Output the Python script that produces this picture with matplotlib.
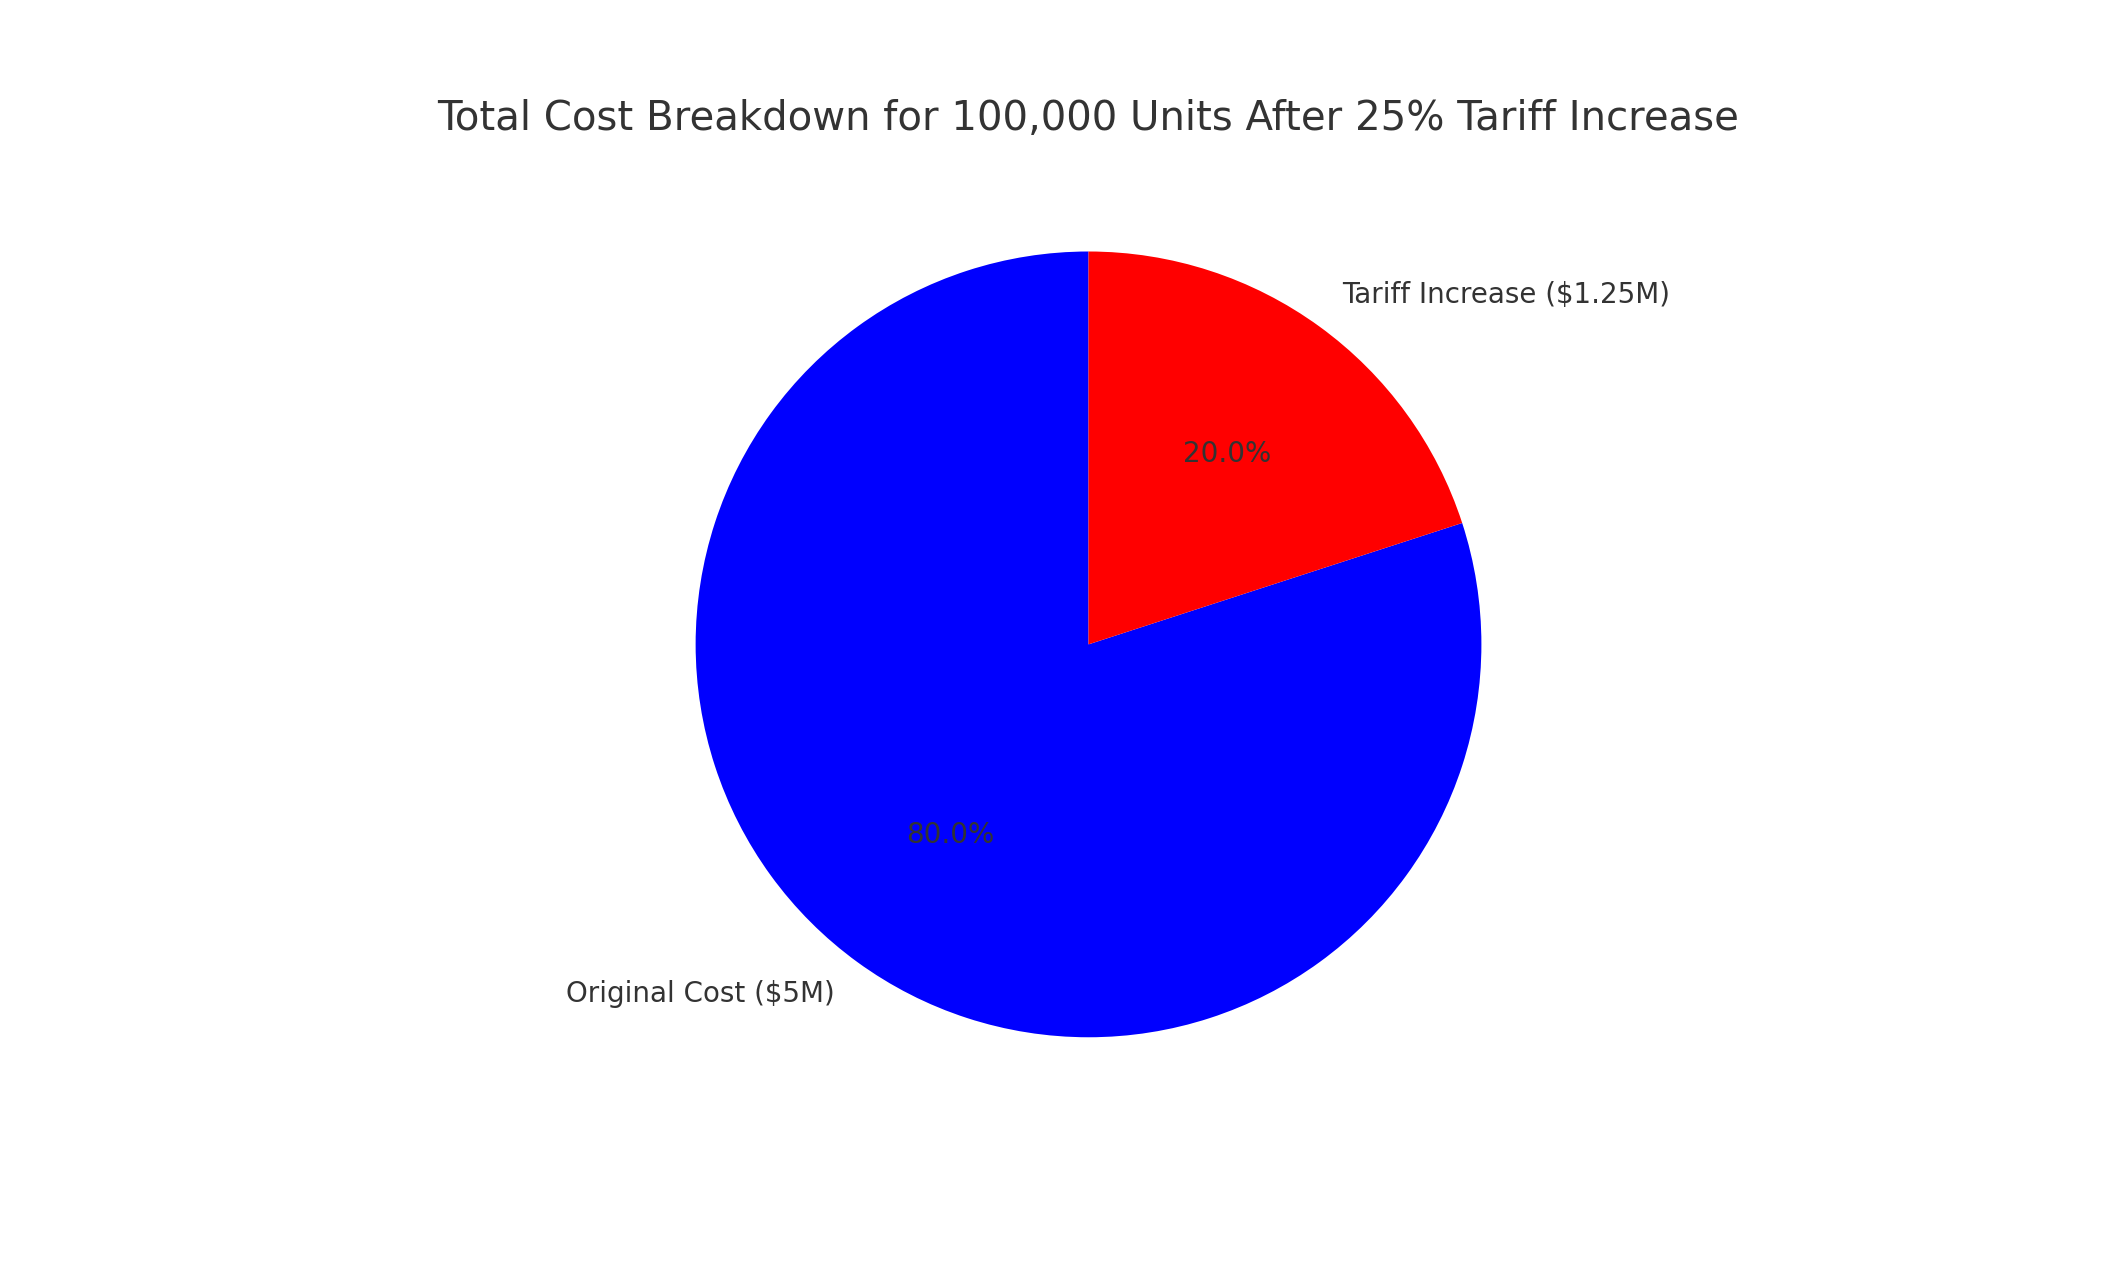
import matplotlib
matplotlib.use("Agg")
import matplotlib.pyplot as plt

labels = ["Original Cost ($5M)", "Tariff Increase ($1.25M)"]
values = [5.0, 1.25]
colors = ["blue", "red"]

fig = plt.figure(figsize=(21.26, 12.76), dpi=100)
ax = fig.add_axes([0.281, 0.11, 0.462, 0.77])
wedges, texts, autotexts = ax.pie(values, labels=labels, colors=colors, autopct="%1.1f%%",
                                  startangle=90, textprops={"fontsize": 20, "color": "#333333"})
for t in autotexts:
    t.set_color("#333333")
ax.set_xlim(-1.25, 1.25)
ax.set_ylim(-1.25, 1.25)
ax.set_aspect("equal")
fig.text(0.512, 0.907, "Total Cost Breakdown for 100,000 Units After 25% Tariff Increase",
         ha="center", va="center", fontsize=29, color="#333333")
fig.savefig("out.png", dpi=100, facecolor="white")
